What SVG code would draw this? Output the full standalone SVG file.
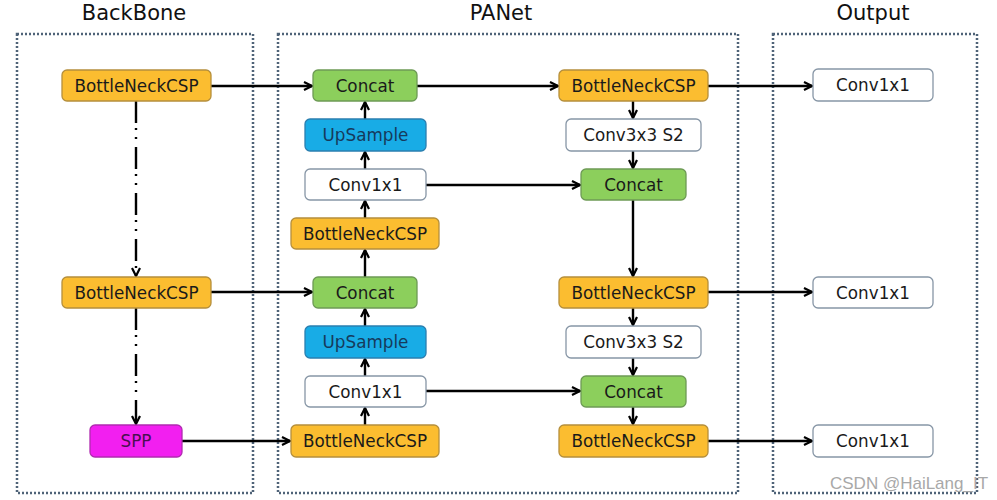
<svg xmlns="http://www.w3.org/2000/svg" width="997" height="500" viewBox="0 0 997 500">
<defs>
<marker id="ah" viewBox="0 0 10 10" refX="9" refY="5" markerWidth="10" markerHeight="10" markerUnits="userSpaceOnUse" orient="auto">
<path d="M1,1 L9,5 L1,9" fill="none" stroke="#000" stroke-width="2.2"/>
</marker>
</defs>
<style>
.title{font-family:"DejaVu Sans",sans-serif;font-size:21px;fill:#111;text-anchor:middle}
.lbl{font-family:"DejaVu Sans",sans-serif;font-size:16.8px;fill:#1a1a1a;text-anchor:middle;dominant-baseline:central}
.grp{fill:none;stroke:#4f6378;stroke-width:2.5;stroke-dasharray:2 2}
.orange{fill:#fbbd30;stroke:#b58f3c;stroke-width:1.3}
.green{fill:#8ccf5c;stroke:#6d9a55;stroke-width:1.3}
.blue{fill:#18ace6;stroke:#2a7fb0;stroke-width:1.3}
.mag{fill:#f21ff0;stroke:#b02bb0;stroke-width:1.3}
.white{fill:#fff;stroke:#8796a6;stroke-width:1.3}
.c{fill:none;stroke:#000;stroke-width:2.4;marker-end:url(#ah)}
.dd{fill:none;stroke:#000;stroke-width:2.4;stroke-dasharray:22 5 2 7 2 8;marker-end:url(#ah)}
.wm{font-family:"Liberation Sans",sans-serif;font-size:17px;fill:#a8a8a8}
</style>
<rect width="997" height="500" fill="#fff"/>
<g id="groups">
<rect class="grp" x="17" y="34" width="236" height="459"/>
<rect class="grp" x="278" y="34" width="460" height="459"/>
<rect class="grp" x="773" y="34" width="204" height="459"/>
<text class="title" x="134" y="20">BackBone</text>
<text class="title" x="501" y="20">PANet</text>
<text class="title" x="873" y="20">Output</text>
</g>
<g id="connectors">
<path class="c" d="M211,86 H312"/>
<path class="c" d="M417,86 H558"/>
<path class="c" d="M708,86 H812"/>
<path class="c" d="M211,292 H312"/>
<path class="c" d="M708,292 H812"/>
<path class="c" d="M182,441 H290"/>
<path class="c" d="M708,441 H812"/>
<path class="c" d="M426,185 H580"/>
<path class="c" d="M426,391 H580"/>
<path class="c" d="M365,119 V102"/>
<path class="c" d="M365,169 V152"/>
<path class="c" d="M365,218 V201"/>
<path class="c" d="M365,277 V250"/>
<path class="c" d="M365,326 V309"/>
<path class="c" d="M365,376 V359"/>
<path class="c" d="M365,425 V408"/>
<path class="c" d="M633,101 V118"/>
<path class="c" d="M633,151 V168"/>
<path class="c" d="M633,200 V276"/>
<path class="c" d="M633,308 V325"/>
<path class="c" d="M633,358 V375"/>
<path class="c" d="M633,407 V424"/>
<path class="dd" d="M136,101 V276"/>
<path class="dd" d="M136,308 V424"/>
</g>
<g id="bb1"><rect class="orange" x="62" y="70" width="149" height="31" rx="5"/><text class="lbl" x="136.5" y="86">BottleNeckCSP</text></g>
<g id="bb2"><rect class="orange" x="62" y="277" width="149" height="31" rx="5"/><text class="lbl" x="136.5" y="293">BottleNeckCSP</text></g>
<g id="spp"><rect class="mag" x="90" y="425" width="92" height="32" rx="5"/><text class="lbl" x="136" y="441" style="fill:#4a1050">SPP</text></g>
<g id="concat1"><rect class="green" x="313" y="70" width="104" height="31" rx="5"/><text class="lbl" x="365" y="86">Concat</text></g>
<g id="up1"><rect class="blue" x="305" y="119" width="121" height="32" rx="5"/><text class="lbl" x="365.5" y="135" style="fill:#163a5c">UpSample</text></g>
<g id="conv1"><rect class="white" x="305" y="169" width="121" height="31" rx="5"/><text class="lbl" x="365.5" y="185">Conv1x1</text></g>
<g id="bn1"><rect class="orange" x="291" y="218" width="148" height="31" rx="5"/><text class="lbl" x="365" y="234">BottleNeckCSP</text></g>
<g id="concat2"><rect class="green" x="313" y="277" width="104" height="31" rx="5"/><text class="lbl" x="365" y="293">Concat</text></g>
<g id="up2"><rect class="blue" x="305" y="326" width="121" height="32" rx="5"/><text class="lbl" x="365.5" y="342" style="fill:#163a5c">UpSample</text></g>
<g id="conv2"><rect class="white" x="305" y="376" width="121" height="31" rx="5"/><text class="lbl" x="365.5" y="392">Conv1x1</text></g>
<g id="bn2"><rect class="orange" x="291" y="425" width="148" height="32" rx="5"/><text class="lbl" x="365" y="441">BottleNeckCSP</text></g>
<g id="rbn1"><rect class="orange" x="559" y="70" width="149" height="31" rx="5"/><text class="lbl" x="633.5" y="86">BottleNeckCSP</text></g>
<g id="rconv1"><rect class="white" x="566" y="119" width="135" height="32" rx="5"/><text class="lbl" x="633.5" y="135">Conv3x3 S2</text></g>
<g id="rconcat1"><rect class="green" x="581" y="169" width="105" height="31" rx="5"/><text class="lbl" x="633.5" y="185">Concat</text></g>
<g id="rbn2"><rect class="orange" x="559" y="277" width="149" height="31" rx="5"/><text class="lbl" x="633.5" y="293">BottleNeckCSP</text></g>
<g id="rconv2"><rect class="white" x="566" y="326" width="135" height="32" rx="5"/><text class="lbl" x="633.5" y="342">Conv3x3 S2</text></g>
<g id="rconcat2"><rect class="green" x="581" y="376" width="105" height="31" rx="5"/><text class="lbl" x="633.5" y="392">Concat</text></g>
<g id="rbn3"><rect class="orange" x="559" y="425" width="149" height="32" rx="5"/><text class="lbl" x="633.5" y="441">BottleNeckCSP</text></g>
<g id="out1"><rect class="white" x="813" y="69" width="120" height="32" rx="5"/><text class="lbl" x="873" y="85">Conv1x1</text></g>
<g id="out2"><rect class="white" x="813" y="277" width="120" height="31" rx="5"/><text class="lbl" x="873" y="293">Conv1x1</text></g>
<g id="out3"><rect class="white" x="813" y="425" width="120" height="32" rx="5"/><text class="lbl" x="873" y="441">Conv1x1</text></g>
<text class="wm" x="830" y="489">CSDN @HaiLang_IT</text>
</svg>
